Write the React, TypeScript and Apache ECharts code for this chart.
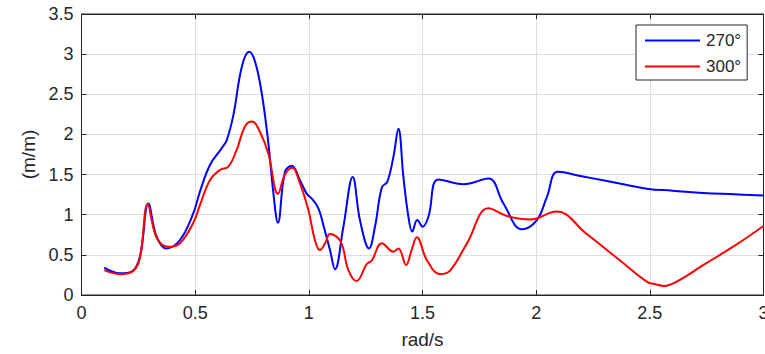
import React, { useEffect, useRef } from "react";
import * as echarts from "echarts";

// Response amplitude for two headings, sampled against wave frequency (rad/s)
const freq270 = [0.1, 0.169, 0.22, 0.257, 0.294, 0.33, 0.372, 0.433, 0.492, 0.521, 0.565, 0.617, 0.639, 0.668, 0.705, 0.737, 0.763, 0.793, 0.822, 0.844, 0.864, 0.895, 0.925, 0.961, 0.991, 1.013, 1.042, 1.064, 1.093, 1.115, 1.152, 1.193, 1.225, 1.265, 1.291, 1.321, 1.345, 1.372, 1.394, 1.416, 1.438, 1.455, 1.477, 1.501, 1.526, 1.57, 1.68, 1.79, 1.856, 1.937, 2.003, 2.047, 2.095, 2.2, 2.3, 2.4, 2.494, 2.6, 2.735, 2.87, 3.0];
const amp270 = [0.34, 0.27, 0.29, 0.48, 1.14, 0.73, 0.58, 0.685, 1.02, 1.287, 1.62, 1.83, 1.93, 2.24, 2.84, 3.03, 2.91, 2.51, 1.89, 1.27, 0.9, 1.535, 1.61, 1.43, 1.26, 1.2, 1.08, 0.87, 0.56, 0.32, 0.85, 1.47, 0.93, 0.58, 0.85, 1.34, 1.41, 1.72, 2.07, 1.47, 0.975, 0.79, 0.934, 0.85, 0.975, 1.44, 1.38, 1.45, 1.14, 0.82, 0.934, 1.22, 1.535, 1.48, 1.425, 1.37, 1.32, 1.3, 1.27, 1.255, 1.24];

const freq300 = [0.1, 0.169, 0.228, 0.257, 0.291, 0.33, 0.382, 0.433, 0.492, 0.521, 0.565, 0.609, 0.646, 0.683, 0.719, 0.751, 0.785, 0.822, 0.864, 0.895, 0.927, 0.961, 0.998, 1.027, 1.049, 1.071, 1.093, 1.14, 1.174, 1.21, 1.255, 1.277, 1.321, 1.372, 1.394, 1.428, 1.452, 1.475, 1.519, 1.577, 1.62, 1.695, 1.79, 1.871, 1.973, 2.09, 2.22, 2.369, 2.494, 2.516, 2.563, 2.618, 2.736, 2.882, 3.0];
const amp300 = [0.31, 0.26, 0.3, 0.46, 1.13, 0.72, 0.6, 0.645, 0.9, 1.12, 1.43, 1.557, 1.6, 1.81, 2.1, 2.16, 2.03, 1.76, 1.26, 1.5, 1.585, 1.39, 1.06, 0.68, 0.56, 0.64, 0.76, 0.665, 0.31, 0.174, 0.386, 0.43, 0.645, 0.54, 0.58, 0.374, 0.56, 0.72, 0.436, 0.26, 0.3, 0.64, 1.08, 0.984, 0.94, 1.04, 0.765, 0.43, 0.153, 0.14, 0.112, 0.166, 0.374, 0.63, 0.86];

const seriesNames = ["270°", "300°"];
const seriesColors = ["#0000ff", "#ff0000"];

const xTickStep = 0.5;
const yTickStep = 0.5;

const zip = (xs: number[], ys: number[]) => xs.map((x, i) => [x, ys[i]]);

const FONT = "'Liberation Sans', Arial, Helvetica, sans-serif";
const INK = "#262626";

export default function App() {
  const ref = useRef<HTMLDivElement>(null);

  useEffect(() => {
    if (!ref.current) return;
    const chart = echarts.init(ref.current, undefined, { renderer: "svg" });

    const labelStyle = { color: INK, fontSize: 18, fontFamily: FONT };
    const nameStyle = { color: INK, fontSize: 19, fontFamily: FONT };
    const boxAxis = {
      axisLine: { show: true, onZero: false, lineStyle: { color: INK, width: 1 } },
      axisTick: { show: true, inside: true, length: 5, lineStyle: { color: INK } },
      splitLine: { show: false },
      axisLabel: { show: false },
    };

    chart.setOption({
      animation: false,
      backgroundColor: "#ffffff",
      grid: {
        left: 81.5,
        right: 1.5,
        top: 14,
        bottom: 59,
        containLabel: false,
        outerBoundsMode: "none",
        show: true,
        borderColor: INK,
        borderWidth: 1,
        backgroundColor: "transparent",
      },
      legend: {
        orient: "vertical",
        left: 636,
        top: 25,
        data: seriesNames,
        itemWidth: 55,
        itemHeight: 14,
        itemGap: 9,
        padding: [7, 6, 5, 8],
        borderColor: INK,
        borderWidth: 1,
        backgroundColor: "#ffffff",
        itemStyle: { opacity: 0 },
        lineStyle: { width: 2 },
        textStyle: { color: INK, fontSize: 17, fontFamily: FONT, padding: [0, 0, 0, 1] },
      },
      xAxis: [
        {
          type: "value",
          min: 0,
          max: 3,
          interval: xTickStep,
          name: "rad/s",
          nameLocation: "middle",
          nameGap: 35,
          nameTextStyle: nameStyle,
          axisLine: { show: true, onZero: false, lineStyle: { color: INK, width: 1 } },
          axisTick: { show: true, inside: true, length: 5, lineStyle: { color: INK } },
          axisLabel: { ...labelStyle, margin: 9 },
          splitLine: { show: true, lineStyle: { color: "#dedede", width: 1 } },
        },
        { type: "value", position: "top", min: 0, max: 3, interval: xTickStep, ...boxAxis },
      ],
      yAxis: [
        {
          type: "value",
          min: 0,
          max: 3.5,
          interval: yTickStep,
          name: "(m/m)",
          nameLocation: "middle",
          nameGap: 44,
          nameTextStyle: nameStyle,
          axisLine: { show: true, onZero: false, lineStyle: { color: INK, width: 1 } },
          axisTick: { show: true, inside: true, length: 5, lineStyle: { color: INK } },
          axisLabel: { ...labelStyle, margin: 8 },
          splitLine: { show: true, lineStyle: { color: "#dedede", width: 1 } },
        },
        { type: "value", position: "right", min: 0, max: 3.5, interval: yTickStep, ...boxAxis },
      ],
      series: [
        {
          name: seriesNames[0],
          type: "line",
          data: zip(freq270, amp270),
          symbol: "none",
          smooth: 0.4,
          lineStyle: { color: seriesColors[0], width: 2 },
          itemStyle: { color: seriesColors[0] },
          z: 3,
        },
        {
          name: seriesNames[1],
          type: "line",
          data: zip(freq300, amp300),
          symbol: "none",
          smooth: 0.4,
          lineStyle: { color: seriesColors[1], width: 2 },
          itemStyle: { color: seriesColors[1] },
          z: 4,
        },
      ],
    });

    return () => chart.dispose();
  }, []);

  return (
    <div
      ref={ref}
      style={{ position: "fixed", left: 0, top: 0, width: 765, height: 354 }}
    />
  );
}
